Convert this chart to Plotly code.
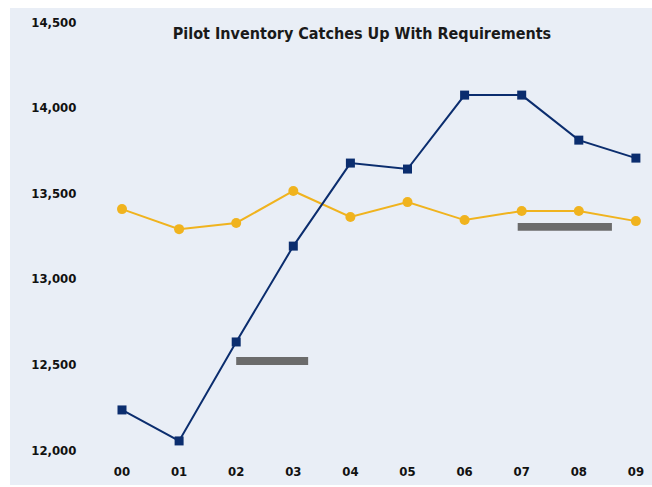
import plotly.graph_objects as go

years = ["00", "01", "02", "03", "04", "05", "06", "07", "08", "09"]
inventory = [12234, 12053, 12631, 13191, 13676, 13641, 14073, 14073, 13810, 13705]
requirements = [13407, 13290, 13326, 13513, 13361, 13448, 13343, 13396, 13396, 13337]
y_ticks = [12000, 12500, 13000, 13500, 14000, 14500]
y_tick_labels = ["12,000", "12,500", "13,000", "13,500", "14,000", "14,500"]

W, H = 652, 487
L, R, T, B = 95, 0, 8, 25
BG = "#E9EEF6"
FONT = "Liberation Sans Narrow, DejaVu Sans Condensed, Arial Narrow, sans-serif"

xi = list(range(len(years)))

fig = go.Figure()
fig.add_trace(go.Scatter(
    x=xi, y=requirements, mode="lines+markers",
    line=dict(color="#F0B31E", width=2),
    marker=dict(color="#F0B31E", size=10, symbol="circle"),
    showlegend=False,
))
fig.add_trace(go.Scatter(
    x=xi, y=inventory, mode="lines+markers",
    line=dict(color="#0B2D6E", width=2),
    marker=dict(color="#0B2D6E", size=9, symbol="square"),
    showlegend=False,
))

pw = W - L - R
ph = H - T - B
shapes = [
    # background panel
    dict(type="rect", xref="paper", yref="paper",
         x0=(10 - L) / pw, x1=(W + 20 - L) / pw,
         y0=(H - B - 485) / ph, y1=1.0,
         fillcolor=BG, line=dict(width=0), layer="below"),
    # legend key swatches (labels missing in original)
    dict(type="rect", xref="x", yref="y", x0=2.0, x1=3.26, y0=12497, y1=12543,
         fillcolor="#6B6B6B", line=dict(width=0), layer="above"),
    dict(type="rect", xref="x", yref="y", x0=6.93, x1=8.58, y0=13280, y1=13326,
         fillcolor="#6B6B6B", line=dict(width=0), layer="above"),
]

fig.update_layout(
    width=W, height=H,
    margin=dict(l=L, r=R, t=T, b=B),
    paper_bgcolor="white",
    plot_bgcolor=BG,
    shapes=shapes,
    title=dict(text="<b>Pilot Inventory Catches Up With Requirements</b>",
               x=362 / W, xanchor="center", y=1 - 33 / H, yanchor="middle",
               font=dict(family=FONT, size=16, color="#1a1a1a")),
    xaxis=dict(range=[(L - 122) / 57.1, (W - R - 122) / 57.1],
               tickmode="array", tickvals=xi, ticktext=["<b>%s</b>" % t for t in years],
               showgrid=False, zeroline=False, showline=False,
               ticks="", tickfont=dict(family=FONT, size=13, color="#111111")),
    yaxis=dict(range=[12000 - (H - B - 450) * 5.84, 14500 + (22 - T) * 5.84],
               tickmode="array", tickvals=y_ticks,
               ticktext=["<b>%s</b>" % t for t in y_tick_labels],
               showgrid=False, zeroline=False, showline=False,
               ticks="outside", ticklen=15, tickcolor="rgba(0,0,0,0)",
               tickfont=dict(family=FONT, size=13, color="#111111")),
)

fig.write_html(
    "out.html", config={"displayModeBar": False},
    post_script=(
        "document.documentElement.style.overflow='hidden';"
        "document.body.style.margin='0';document.body.style.overflow='hidden';"
        "document.documentElement.style.background='%s';" % BG
    ),
)
